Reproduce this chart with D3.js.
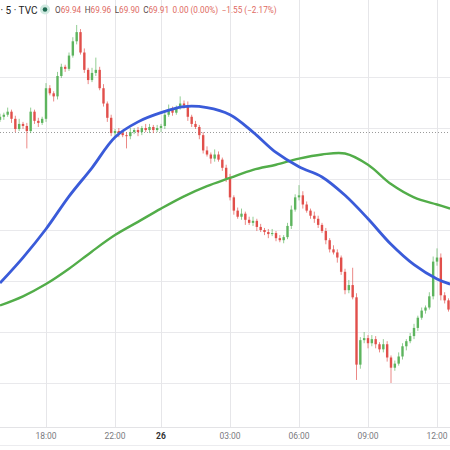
<!DOCTYPE html>
<html>
<head>
<meta charset="utf-8">
<script src="https://cdn.jsdelivr.net/npm/d3@7"></script>
<style>
  html, body { margin: 0; padding: 0; background: #fff; }
  svg { display: block; font-family: Roboto, 'Open Sans', sans-serif; }
</style>
</head>
<body>
<svg class="chart-wrapper" width="450" height="450"></svg>
<script>
'use strict';

// 10 minute candles, bar i sits at trading hour i / 6
var firstOpen = 71.58;
var closes = [
  71.61, 71.63, 71.66, 71.59, 71.49, 71.54, 71.52, 71.47, 71.66, 71.57,
  71.55, 71.59, 71.89, 71.84, 71.81, 72.01, 72.10, 72.08, 72.21, 72.35,
  72.44, 72.24, 72.07, 71.97, 72.04, 72.07, 71.89, 71.74, 71.60, 71.45,
  71.47, 71.45, 71.43, 71.42, 71.46, 71.48, 71.46, 71.50, 71.48, 71.51,
  71.48, 71.50, 71.52, 71.63, 71.68, 71.65, 71.70, 71.74, 71.72, 71.61,
  71.54, 71.51, 71.43, 71.28, 71.24, 71.20, 71.24, 71.19, 71.11, 71.01,
  70.82, 70.69, 70.63, 70.66, 70.60, 70.57, 70.59, 70.53, 70.50, 70.48,
  70.46, 70.47, 70.42, 70.40, 70.43, 70.54, 70.70, 70.82, 70.84, 70.75,
  70.69, 70.64, 70.61, 70.55, 70.49, 70.40, 70.31, 70.28, 70.23, 70.09,
  69.91, 69.96, 69.84, 69.18, 69.42, 69.44, 69.39, 69.43, 69.38, 69.33,
  69.38, 69.25, 69.15, 69.19, 69.26, 69.36, 69.41, 69.46, 69.54, 69.64,
  69.71, 69.74, 69.85, 70.19, 70.23, 69.86, 69.81, 69.72
];
// wick length above / below the body, in cents
var wickHigh = [
  3, 2, 4, 2, 3, 5, 2, 3, 4, 2,
  3, 2, 5, 3, 2, 4, 3, 2, 3, 4,
  7, 3, 4, 2, 5, 12, 3, 4, 2, 3,
  2, 3, 2, 3, 4, 2, 3, 2, 4, 3,
  2, 3, 2, 4, 5, 3, 2, 7, 3, 4,
  2, 3, 2, 3, 4, 2, 5, 3, 2, 3,
  4, 2, 3, 5, 2, 3, 4, 2, 3, 2,
  3, 4, 2, 3, 2, 3, 4, 3, 10, 4,
  3, 2, 4, 3, 2, 3, 2, 4, 3, 2,
  3, 5, 17, 4, 3, 6, 3, 4, 3, 2,
  5, 3, 2, 3, 4, 3, 2, 3, 4, 2,
  3, 2, 4, 5, 9, 4, 3, 2
];
var wickLow = [
  2, 3, 2, 4, 3, 2, 3, 17, 2, 3,
  4, 2, 3, 2, 5, 3, 2, 3, 2, 2,
  3, 2, 3, 4, 2, 3, 2, 3, 4, 3,
  3, 4, 2, 12, 3, 2, 4, 3, 2, 3,
  3, 2, 4, 3, 2, 3, 2, 2, 3, 4,
  3, 2, 4, 3, 2, 5, 3, 2, 3, 4,
  3, 4, 2, 3, 5, 2, 3, 4, 2, 3,
  4, 2, 3, 2, 3, 2, 3, 2, 3, 4,
  2, 3, 4, 3, 2, 4, 3, 2, 5, 3,
  4, 3, 2, 15, 4, 3, 5, 3, 4, 3,
  3, 4, 15, 3, 2, 3, 4, 2, 3, 3,
  2, 3, 2, 3, 4, 5, 3, 2
];

var maHours = [0, 1, 2, 3, 4, 5, 6, 7, 8, 9, 10, 11, 12, 13, 14, 15, 16, 17, 18, 19, 19.57];
var maBlue = [69.98, 70.23, 70.51, 70.83, 71.11, 71.41, 71.56, 71.65, 71.71, 71.70,
  71.63, 71.46, 71.26, 71.12, 71.02, 70.84, 70.61, 70.36, 70.16, 70.02, 69.97];
var maGreen = [69.76, 69.85, 69.97, 70.12, 70.29, 70.45, 70.58, 70.71, 70.83, 70.93,
  71.01, 71.09, 71.14, 71.20, 71.24, 71.25, 71.14, 70.95, 70.82, 70.75, 70.71];

var tickHours = [2, 5, 7, 10, 13, 16, 19];
var tickLabels = ['18:00', '22:00', '26', '03:00', '06:00', '09:00', '12:00'];
var priceTicks = [69, 69.5, 70, 70.5, 71, 71.5, 72];
var prevClose = 71.46;

var symbolText = '\u00b7 5 \u00b7 TVC';
var legendKeys = ['O', 'H', 'L', 'C'];
var legendValues = ['69.94', '69.96', '69.90', '69.91'];
var changeTexts = ['0.00 (0.00%)', '\u22121.55 (\u22122.17%)'];

var width = 450;
var plotBottom = 427;

var svg = d3.select('.chart-wrapper');

var xScale = d3.scaleLinear()
    .domain([0, width / 23])
    .range([0, width]);

var yScale = d3.scaleLinear()
    .domain([69, 72])
    .range([383, 77]);

var bars = closes.map(function (c, i) {
  var o = i === 0 ? firstOpen : closes[i - 1];
  return {
    hour: i / 6,
    open: o,
    close: c,
    high: Math.max(o, c) + wickHigh[i] / 100,
    low: Math.min(o, c) - wickLow[i] / 100
  };
});

// Grid
svg.append('g')
    .attr('class', 'grid-y')
    .selectAll('line')
    .data(priceTicks)
  .enter().append('line')
    .attr('x1', 0)
    .attr('x2', width)
    .attr('y1', function (d) { return Math.round(yScale(d)) + 0.5; })
    .attr('y2', function (d) { return Math.round(yScale(d)) + 0.5; })
    .attr('stroke', '#e9e9ec');

svg.append('g')
    .attr('class', 'grid-x')
    .selectAll('line')
    .data(tickHours)
  .enter().append('line')
    .attr('x1', function (d) { return Math.round(xScale(d)) + 0.5; })
    .attr('x2', function (d) { return Math.round(xScale(d)) + 0.5; })
    .attr('y1', 0)
    .attr('y2', plotBottom)
    .attr('stroke', '#e6e6e9');

// previous close
svg.append('line')
    .attr('x1', 0)
    .attr('x2', width)
    .attr('y1', Math.round(yScale(prevClose)) + 0.5)
    .attr('y2', Math.round(yScale(prevClose)) + 0.5)
    .attr('stroke', '#9a9a9a')
    .attr('stroke-dasharray', '1,2');

// Candles
var upColor = '#5db45e';
var downColor = '#e14f4b';
var bodyW = 2.4;

var candle = svg.append('g')
    .attr('class', 'candles')
    .selectAll('g')
    .data(bars)
  .enter().append('g');

candle.append('line')
    .attr('x1', function (d) { return xScale(d.hour); })
    .attr('x2', function (d) { return xScale(d.hour); })
    .attr('y1', function (d) { return yScale(d.high); })
    .attr('y2', function (d) { return yScale(d.low); })
    .attr('stroke', function (d) { return d.close >= d.open ? upColor : downColor; })
    .attr('stroke-width', 0.9)
    .attr('stroke-opacity', 0.75);

candle.append('rect')
    .attr('x', function (d) { return xScale(d.hour) - bodyW / 2; })
    .attr('width', bodyW)
    .attr('y', function (d) { return yScale(Math.max(d.open, d.close)); })
    .attr('height', function (d) {
      return Math.max(1, Math.abs(yScale(d.open) - yScale(d.close)));
    })
    .attr('fill', function (d) { return d.close >= d.open ? upColor : downColor; });

// Moving averages
var maLine = function (values) {
  return d3.line()
      .x(function (d, i) { return xScale(maHours[i]); })
      .y(function (d) { return yScale(d); })
      .curve(d3.curveCatmullRom.alpha(0.5))(values);
};

svg.append('path')
    .attr('d', maLine(maGreen))
    .attr('fill', 'none')
    .attr('stroke', '#52ad49')
    .attr('stroke-width', 2.4);

svg.append('path')
    .attr('d', maLine(maBlue))
    .attr('fill', 'none')
    .attr('stroke', '#3a5bd9')
    .attr('stroke-width', 2.8);

// Time axis
svg.append('rect')
    .attr('x', 0)
    .attr('y', plotBottom)
    .attr('width', width)
    .attr('height', 450 - plotBottom)
    .attr('fill', '#fff');

svg.append('line')
    .attr('x1', 0).attr('x2', width)
    .attr('y1', plotBottom + 0.5).attr('y2', plotBottom + 0.5)
    .attr('stroke', '#e3e3e6');

svg.append('line')
    .attr('x1', 0).attr('x2', width)
    .attr('y1', 445.5).attr('y2', 445.5)
    .attr('stroke', '#ececef');

svg.append('g')
    .attr('class', 'x axis')
    .selectAll('text')
    .data(tickHours)
  .enter().append('text')
    .attr('x', function (d) { return xScale(d); })
    .attr('y', 439)
    .attr('text-anchor', 'middle')
    .attr('font-size', 8.5)
    .attr('font-weight', function (d, i) { return tickLabels[i] === '26' ? 'bold' : 'normal'; })
    .attr('fill', function (d, i) { return tickLabels[i] === '26' ? '#333' : '#7a7a80'; })
    .text(function (d, i) { return tickLabels[i]; });

// Header legend
svg.append('text')
    .attr('x', 0.5)
    .attr('y', 13.5)
    .attr('font-size', 10)
    .attr('fill', '#222')
    .text(symbolText);

svg.append('circle')
    .attr('cx', 45).attr('cy', 9.5).attr('r', 5)
    .attr('fill', '#cfe9e0');
svg.append('circle')
    .attr('cx', 45).attr('cy', 9.5).attr('r', 2.3)
    .attr('fill', '#1f6b52');

var legend = svg.append('text')
    .attr('x', 55)
    .attr('y', 13)
    .attr('font-size', 8.2);

legendKeys.forEach(function (k, i) {
  legend.append('tspan')
      .attr('dx', i === 0 ? 0 : 3.5)
      .attr('fill', '#5a4a4a')
      .text(k);
  legend.append('tspan')
      .attr('fill', '#e06a62')
      .text(legendValues[i]);
});
changeTexts.forEach(function (t) {
  legend.append('tspan')
      .attr('dx', 3.5)
      .attr('fill', '#e06a62')
      .text(t);
});
</script>
</body>
</html>
